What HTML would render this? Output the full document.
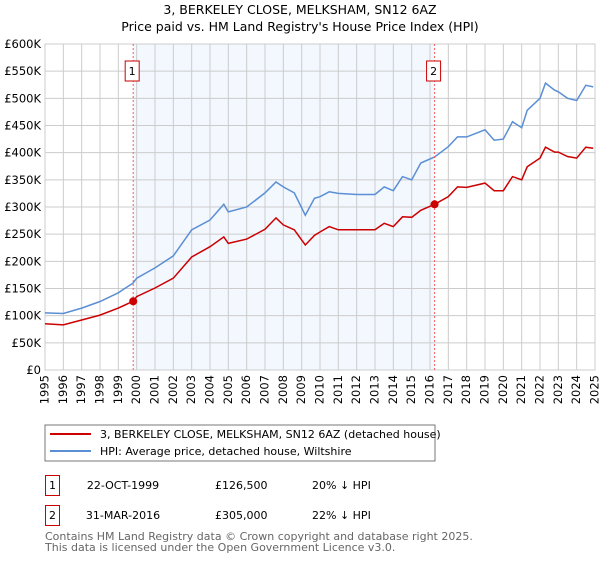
<!DOCTYPE html>
<html><head><meta charset="utf-8"><style>
body{margin:0;background:#fff;width:600px;height:560px;overflow:hidden;font-family:"Liberation Sans","DejaVu Sans",sans-serif}
svg text{font-family:"DejaVu Sans","Liberation Sans",sans-serif}
</style></head><body>
<svg id="c" width="600" height="560" xmlns="http://www.w3.org/2000/svg">
<text x="300" y="14" text-anchor="middle" font-size="12.5" fill="#000">3, BERKELEY CLOSE, MELKSHAM, SN12 6AZ</text>
<text x="300" y="31" text-anchor="middle" font-size="12.5" fill="#000">Price paid vs. HM Land Registry's House Price Index (HPI)</text>
<g id="plot"></g>
<rect x="45" y="425" width="390" height="36" fill="#fff" stroke="#777"/>
<line x1="50" y1="434" x2="91" y2="434" stroke="#cc0000" stroke-width="2"/>
<text x="100" y="438" font-size="11">3, BERKELEY CLOSE, MELKSHAM, SN12 6AZ (detached house)</text>
<line x1="50" y1="451" x2="91" y2="451" stroke="#5b8fd4" stroke-width="2"/>
<text x="100" y="455" font-size="11">HPI: Average price, detached house, Wiltshire</text>
<g>
<rect x="45.5" y="475.5" width="14" height="20" fill="#fff" stroke="#cc0000"/>
<text x="52.5" y="489" text-anchor="middle" font-size="11">1</text>
<text x="123" y="489" text-anchor="middle" font-size="11">22-OCT-1999</text>
<text x="215" y="489" font-size="11">£126,500</text>
<text x="312" y="489" font-size="11">20% ↓ HPI</text></g>
<g>
<rect x="45.5" y="505.5" width="14" height="20" fill="#fff" stroke="#cc0000"/>
<text x="52.5" y="519" text-anchor="middle" font-size="11">2</text>
<text x="123" y="519" text-anchor="middle" font-size="11">31-MAR-2016</text>
<text x="215" y="519" font-size="11">£305,000</text>
<text x="312" y="519" font-size="11">22% ↓ HPI</text></g>
<text x="45" y="540" font-size="11" fill="#666">Contains HM Land Registry data © Crown copyright and database right 2025.</text>
<text x="45" y="551" font-size="11" fill="#666">This data is licensed under the Open Government Licence v3.0.</text>
</svg>
<script>
const hpiYears=[1995,1996,1997,1998,1999,1999.8,2000,2001,2002,2003,2004,2004.75,2005,2006,2007,2007.6,2008,2008.6,2009.2,2009.7,2010,2010.5,2011,2012,2013,2013.5,2014,2014.5,2015,2015.5,2016.25,2017,2017.5,2018,2019,2019.5,2020,2020.5,2021,2021.3,2022,2022.3,2022.8,2023,2023.5,2024,2024.5,2024.9];
const hpiValues=[105,104,114,126,142,160,169,188,210,258,276,305,291,300,326,346,337,326,285,316,319,328,325,323,323,337,330,356,350,381,392,411,429,429,442,423,425,457,446,478,500,528,515,512,500,496,524,521];
const propValues=[85,83,92,101,114,126.5,135,151,169,208,227,245,233,241,259,280,267,258,230,248,254,264,258,258,258,270,264,282,281,294,305,319,337,336,344,330,330,356,350,374,390,410,401,401,393,390,410,408];
const yTicks=[0,50,100,150,200,250,300,350,400,450,500,550,600];
const xTicks=[1995,1996,1997,1998,1999,2000,2001,2002,2003,2004,2005,2006,2007,2008,2009,2010,2011,2012,2013,2014,2015,2016,2017,2018,2019,2020,2021,2022,2023,2024,2025];
const sales=[{n:"1",year:1999.81,value:126.5},{n:"2",year:2016.25,value:305}];
const L=45,R=595,T=44,B=370;
const xs=y=>L+(y-1995)/30*(R-L);
const ys=v=>B-v/600*(B-T);
const NS="http://www.w3.org/2000/svg";
const g=document.getElementById('plot');
function mk(t,a){const e=document.createElementNS(NS,t);for(const k in a)e.setAttribute(k,a[k]);g.appendChild(e);return e;}
const shade=mk('rect',{x:xs(sales[0].year),y:T,width:xs(sales[1].year)-xs(sales[0].year),height:B-T,fill:'#f3f7fe'});


yTicks.forEach(v=>{
 const l=mk('line',{x1:L,x2:R,y1:ys(v),y2:ys(v),stroke:'#ccc','stroke-width':1});
 
 
 const t=mk('text',{x:L-4,y:ys(v)+4,'text-anchor':'end','font-size':11.5});
 t.textContent=v===0?'£0':'£'+v+'K';
 
 
});
xTicks.forEach(yr=>{
 const l=mk('line',{x1:xs(yr),x2:xs(yr),y1:T,y2:B,stroke:'#ccc','stroke-width':1});
 
 
 const t=mk('text',{x:xs(yr),y:B+5,'text-anchor':'end','font-size':11.5,transform:`rotate(-90 ${xs(yr)} ${B+5})`,'dominant-baseline':'middle'});
 t.textContent=yr;
 
 
});
const fr=mk('rect',{x:L,y:T,width:R-L,height:B-T,fill:'none',stroke:'#ccc'});


const path=vals=>vals.map((v,i)=>(i?'L':'M')+xs(hpiYears[i]).toFixed(1)+' '+ys(v).toFixed(1)).join(' ');
const h=mk('path',{d:path(hpiValues),fill:'none',stroke:'#5b8fd4','stroke-width':1.5});


const p=mk('path',{d:path(propValues),fill:'none',stroke:'#cc0000','stroke-width':1.5});


sales.forEach(s=>{
 const l=mk('line',{x1:xs(s.year),x2:xs(s.year),y1:T,y2:B,stroke:'#f06060','stroke-dasharray':'2,2'});
 
 
 const bx=mk('rect',{x:xs(s.year)-8,y:61,width:14,height:20,fill:'#fff',stroke:'#cc0000'});
 
 
 const t=mk('text',{x:xs(s.year)-1,y:75,'text-anchor':'middle','font-size':11});
 t.textContent=s.n;
 
 
 const c=mk('circle',{cx:xs(s.year),cy:ys(s.value),r:4,fill:'#cc0000'});
 
 
});
</script>
</body></html>
